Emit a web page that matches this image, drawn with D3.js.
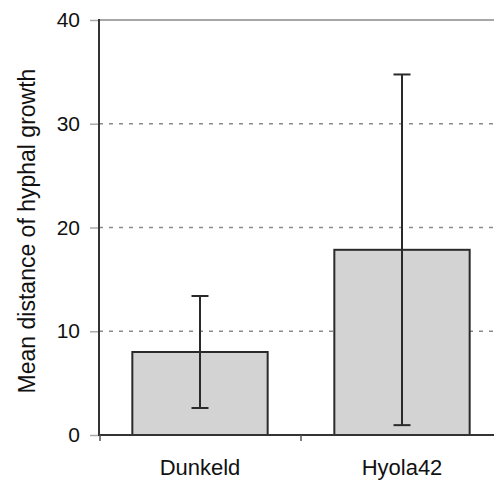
<!DOCTYPE html>
<html lang="en">
<head>
    <meta charset="UTF-8">
    <style>
        body { margin: 0; background: #fff; }
        text { font-family: "Liberation Sans", Arial, sans-serif; fill: #111; }
        .grid line { stroke: #8a8a8a; stroke-width: 1.5px; stroke-dasharray: 4,6; }
    </style>
    <title>Hyphal growth</title>
</head>
<body>
<script src="https://d3js.org/d3.v7.min.js" charset="utf-8"></script>
<script>
    var categories = ['Dunkeld', 'Hyola42'];
    var means = [8.0, 17.85];
    var errors = [5.4, 16.9];
    var yTicks = [0, 10, 20, 30, 40];

    var width = 494, height = 481;
    var mLeft = 99, mRight = 503, mTop = 20, mBottom = 435;

    var svg = d3.select('body').append('svg')
        .attr('width', width).attr('height', height);

    var x = d3.scaleBand()
        .domain(categories)
        .range([mLeft, mRight])
        .paddingInner(0.33)
        .paddingOuter(0.165);

    var y = d3.scaleLinear().domain([0, 40]).range([mBottom, mTop]);

    // gridlines (dashed), top one solid
    svg.append('g').attr('class', 'grid')
        .selectAll('line')
        .data(yTicks.filter(function (d) { return d > 0; }))
        .enter().append('line')
        .attr('x1', mLeft).attr('x2', width)
        .attr('y1', function (d) { return y(d); })
        .attr('y2', function (d) { return y(d); })
        .style('stroke-dasharray', function (d) { return d === 40 ? 'none' : null; });

    // y axis
    var yAxis = d3.axisLeft(y).tickValues(yTicks).tickSize(9).tickPadding(10);
    var gy = svg.append('g').attr('transform', 'translate(' + mLeft + ',0)').call(yAxis);
    gy.select('.domain').remove();
    gy.selectAll('.tick line').attr('stroke', '#aaa').attr('stroke-width', 1.5);
    gy.selectAll('.tick text').style('font-size', '21px').style('font-family', '"Liberation Sans", Arial, sans-serif').attr('fill', '#111');

    // bars
    svg.append('g').selectAll('rect')
        .data(means)
        .enter().append('rect')
        .attr('x', function (d, i) { return x(categories[i]); })
        .attr('y', function (d) { return y(d); })
        .attr('width', x.bandwidth())
        .attr('height', function (d) { return y(0) - y(d); })
        .attr('fill', '#d3d3d3')
        .attr('stroke', '#2a2a2a')
        .attr('stroke-width', 2);

    // error bars
    var cap = 8.5;
    var eb = svg.append('g').attr('stroke', '#2a2a2a').attr('stroke-width', 2);
    means.forEach(function (m, i) {
        var cx = x(categories[i]) + x.bandwidth() / 2;
        eb.append('line').attr('x1', cx).attr('x2', cx).attr('y1', y(m + errors[i])).attr('y2', y(m - errors[i]));
        eb.append('line').attr('x1', cx - cap).attr('x2', cx + cap).attr('y1', y(m + errors[i])).attr('y2', y(m + errors[i]));
        eb.append('line').attr('x1', cx - cap).attr('x2', cx + cap).attr('y1', y(m - errors[i])).attr('y2', y(m - errors[i]));
    });

    // axis lines
    svg.append('line').attr('x1', mLeft).attr('x2', mLeft).attr('y1', mTop - 1).attr('y2', mBottom + 1)
        .attr('stroke', '#333').attr('stroke-width', 2);
    svg.append('line').attr('x1', mLeft - 1).attr('x2', width).attr('y1', mBottom).attr('y2', mBottom)
        .attr('stroke', '#333').attr('stroke-width', 2);

    // x axis labels, ticks between categories
    var xAxis = d3.axisBottom(x).tickSize(0).tickPadding(24);
    var gx = svg.append('g').attr('transform', 'translate(0,' + mBottom + ')').call(xAxis);
    gx.select('.domain').remove();
    gx.selectAll('.tick text').style('font-size', '22px').style('font-family', '"Liberation Sans", Arial, sans-serif').attr('fill', '#111');
    svg.append('g').selectAll('line')
        .data([mLeft + 1, mLeft + x.step()])
        .enter().append('line')
        .attr('x1', function (d) { return d; }).attr('x2', function (d) { return d; })
        .attr('y1', mBottom).attr('y2', mBottom + 6)
        .attr('stroke', '#555').attr('stroke-width', 1.5);

    // y label
    svg.append('text')
        .attr('transform', 'translate(35,231) rotate(-90)')
        .attr('text-anchor', 'middle')
        .style('font-size', '23px')
        .text('Mean distance of hyphal growth');
</script>
</body>
</html>
